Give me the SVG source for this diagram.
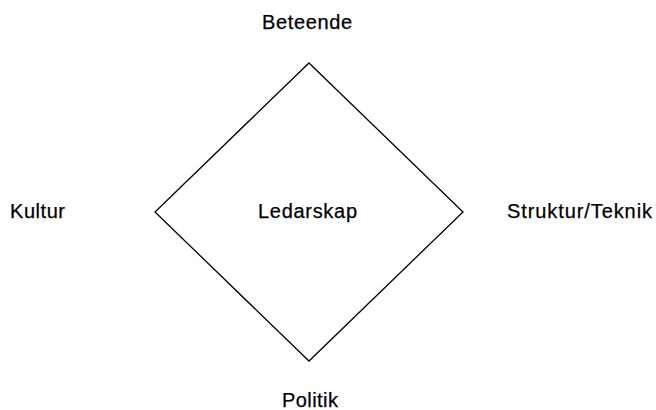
<svg xmlns="http://www.w3.org/2000/svg" width="656" height="410" viewBox="0 0 656 410">
  <style>
    .lbl { font-family: "Liberation Sans", Arial, sans-serif; font-size: 20px; fill: #000; stroke: #000; stroke-width: 0.25; }
    .edge { fill: none; stroke: #000; stroke-width: 1.3; }
  </style>
  <rect width="656" height="410" fill="#fff"/>
  <g id="connectors">
    <polygon class="edge" points="309,63 463,212 309,361 155,212"/>
  </g>
  <g id="node-ledarskap">
    <text class="lbl" x="258" y="218" textLength="99" lengthAdjust="spacing">Ledarskap</text>
  </g>
  <g id="node-beteende">
    <text class="lbl" x="262" y="29" textLength="90" lengthAdjust="spacing">Beteende</text>
  </g>
  <g id="node-kultur">
    <text class="lbl" x="10" y="218" textLength="55" lengthAdjust="spacing">Kultur</text>
  </g>
  <g id="node-struktur">
    <text class="lbl" x="507" y="218" textLength="145" lengthAdjust="spacing">Struktur/Teknik</text>
  </g>
  <g id="node-politik">
    <text class="lbl" x="282" y="407" textLength="56" lengthAdjust="spacing">Politik</text>
  </g>
</svg>
